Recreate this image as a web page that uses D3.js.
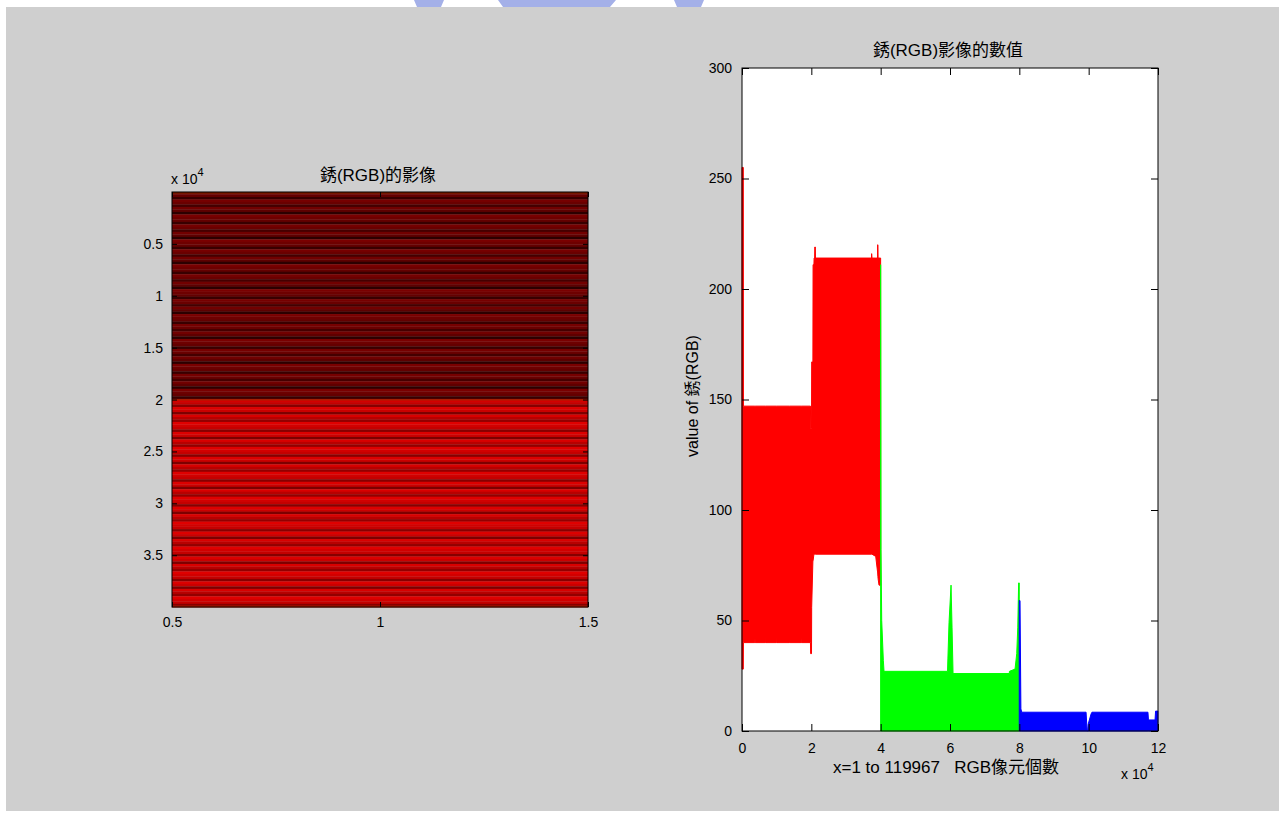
<!DOCTYPE html>
<html lang="zh-Hant">
<head>
  <meta charset="UTF-8">
  <title>銹(RGB)影像</title>
  <script src="https://d3js.org/d3.v7.min.js"></script>
  <style>
    body { margin: 0; background: #fff; }
    text { font-family: "Liberation Sans", Arial, "Noto Sans CJK TC", sans-serif; fill: #000; }
  </style>
</head>
<body>
  <svg id="fig" width="1286" height="814"></svg>

  <script>
    // ---- data ----
    const nRows = 39989;      // pixels per channel (119967 / 3)
    const nTotal = 119967;

    // envelope of the dense R/G/B value line: [index, low, high]
    const redEnvelope = [
      [1, 28, 255], [380, 28, 255], [420, 40, 147],
      [3700, 40, 147], [3750, 42, 147], [3800, 40, 147],
      [6800, 40, 147], [6850, 42, 147], [6900, 40, 147],
      [10000, 40, 147], [10050, 42, 147], [10100, 40, 147],
      [13600, 40, 147], [13650, 42, 147], [13700, 40, 147],
      [17000, 40, 147], [17050, 42, 147], [17100, 40, 147],
      [19750, 40, 147], [19800, 35, 137], [20050, 35, 137],
      [20100, 56, 167], [20450, 77, 167], [20500, 77, 211],
      [20750, 80, 211], [20800, 80, 214], [20950, 80, 214],
      [21000, 80, 219], [21150, 80, 219], [21200, 80, 214],
      [37350, 80, 214], [37400, 80, 216], [37500, 80, 214],
      [38570, 79, 214], [39100, 72, 214], [39120, 72, 220],
      [39200, 70, 220], [39250, 69, 214], [39520, 66, 214],
      [39989, 66, 214]
    ];
    const greenEnvelope = [
      [39990, 0, 211], [40100, 0, 82], [40300, 0, 50], [40770, 0, 32],
      [40970, 0, 27], [59290, 0, 27], [59400, 0, 33], [59720, 0, 49],
      [60300, 0, 66], [60590, 0, 47], [60880, 0, 26], [77100, 0, 26],
      [77150, 0, 27], [78760, 0, 28], [79250, 0, 35], [79550, 0, 47],
      [79800, 0, 67], [79978, 0, 67]
    ];
    const blueEnvelope = [
      [79979, 0, 59], [80200, 0, 59], [80450, 0, 10], [80700, 0, 8.5],
      [99250, 0, 8.5], [99550, 0, 0], [99700, 0, 0], [99850, 0, 3],
      [100200, 0, 5], [100700, 0, 7.7], [100950, 0, 8.5], [117100, 0, 8.5],
      [117250, 0, 5], [119150, 0, 5], [119300, 0, 9], [119967, 0, 9]
    ];

    // the one-column image: stripe shades for the two halves of the rows
    const imgHalves = [
      { from: 0.5, to: 20000.5, shades: ["#6e0000", "#640000", "#380000", "#760000", "#6a0000", "#440000", "#720000", "#5e0000", "#2c0000", "#7a0000"] },
      { from: 20000.5, to: 39989.5, shades: ["#d20000", "#c40000", "#860000", "#dc0000", "#ca0000", "#7c0000", "#d80000", "#b80000", "#920000", "#e00000"] }
    ];
    const stripeRows = 240;
    // a few rows that stand out (rows where green is high)
    const imgAccents = [[0.5, 150, "#7a1c00"], [19960, 20060, "#a82000"], [39860, 39989.5, "#bc2000"]];

    const leftYTicks = [5000, 10000, 15000, 20000, 25000, 30000, 35000];
    const leftXTicks = [0.5, 1, 1.5];
    const rightXTicks = [0, 20000, 40000, 60000, 80000, 100000, 120000];
    const rightYTicks = [0, 50, 100, 150, 200, 250, 300];

    // ---- figure ----
    const svg = d3.select("#fig");
    svg.append("rect").attr("x", 6).attr("y", 7).attr("width", 1273).attr("height", 804).attr("fill", "#cfcfcf");

    // faint logo fragment at the top edge
    svg.append("path").attr("fill", "#a4b0e8")
      .attr("d", "M414,0 L444,0 L441,7 L417,7 Z M498,0 L616,0 L610,7 L503,7 Z M674,0 L704,0 L701,7 L677,7 Z");

    const font = 14;

    // ---------- left: image ----------
    const L = { x0: 172, x1: 588, y0: 192, y1: 607 };
    const xImg = d3.scaleLinear().domain([0.5, 1.5]).range([L.x0, L.x1]);
    const yImg = d3.scaleLinear().domain([0.5, nRows + 0.5]).range([L.y0, L.y1]);

    const stripes = [];
    imgHalves.forEach(h => {
      let i = 0;
      for (let r = h.from; r < h.to; r += stripeRows, i++) {
        stripes.push({ r0: r, r1: Math.min(r + stripeRows, h.to), c: h.shades[i % h.shades.length] });
      }
    });
    imgAccents.forEach(a => stripes.push({ r0: a[0], r1: a[1], c: a[2] }));

    const left = svg.append("g");
    left.selectAll("rect.stripe").data(stripes).enter().append("rect")
      .attr("class", "stripe")
      .attr("x", xImg(0.5)).attr("width", xImg(1.5) - xImg(0.5))
      .attr("y", d => yImg(d.r0)).attr("height", d => yImg(d.r1) - yImg(d.r0) + 0.3)
      .attr("fill", d => d.c);

    left.append("g").attr("transform", `translate(0,${L.y1})`)
      .call(d3.axisBottom(xImg).tickValues(leftXTicks).tickSizeInner(-5).tickSizeOuter(0).tickPadding(10).tickFormat(d3.format("")));
    left.append("g").attr("transform", `translate(0,${L.y0})`)
      .call(d3.axisTop(xImg).tickValues(leftXTicks).tickSizeInner(-5).tickSizeOuter(0).tickFormat(""));
    left.append("g").attr("transform", `translate(${L.x0},0)`)
      .call(d3.axisLeft(yImg).tickValues(leftYTicks).tickSizeInner(-5).tickSizeOuter(0).tickPadding(9).tickFormat(d => d / 1e4));
    left.append("g").attr("transform", `translate(${L.x1},0)`)
      .call(d3.axisRight(yImg).tickValues(leftYTicks).tickSizeInner(-5).tickSizeOuter(0).tickFormat(""));
    left.append("rect").attr("x", L.x0).attr("y", L.y0).attr("width", L.x1 - L.x0).attr("height", L.y1 - L.y0)
      .attr("fill", "none").attr("stroke", "#000");

    left.append("text").attr("x", 378).attr("y", 181).attr("text-anchor", "middle").attr("font-size", 17).text("銹(RGB)的影像");
    const lx = left.append("text").attr("x", 171).attr("y", 184).attr("font-size", 14);
    lx.append("tspan").text("x 10");
    lx.append("tspan").attr("dy", -8).attr("font-size", 11).text("4");

    // ---------- right: values ----------
    const R = { x0: 742, x1: 1158, y0: 68, y1: 731 };
    const x = d3.scaleLinear().domain([0, 120000]).range([R.x0, R.x1]);
    const y = d3.scaleLinear().domain([0, 300]).range([R.y1, R.y0]);

    const right = svg.append("g");
    right.append("rect").attr("x", R.x0).attr("y", R.y0).attr("width", R.x1 - R.x0).attr("height", R.y1 - R.y0).attr("fill", "#fff");

    const area = d3.area().x(d => x(d[0])).y0(d => y(d[1])).y1(d => y(d[2]));
    const series = [
      { data: redEnvelope, color: "#ff0000" },
      { data: greenEnvelope, color: "#00ff00" },
      { data: blueEnvelope, color: "#0000ff" }
    ];
    right.selectAll("path.series").data(series).enter().append("path")
      .attr("class", "series")
      .attr("d", d => area(d.data))
      .attr("fill", d => d.color)
      .attr("stroke", d => d.color)
      .attr("stroke-width", 1);

    right.append("g").attr("transform", `translate(0,${R.y1})`)
      .call(d3.axisBottom(x).tickValues(rightXTicks).tickSizeInner(-7).tickSizeOuter(0).tickPadding(12).tickFormat(d => d / 1e4));
    right.append("g").attr("transform", `translate(0,${R.y0})`)
      .call(d3.axisTop(x).tickValues(rightXTicks).tickSizeInner(-7).tickSizeOuter(0).tickFormat(""));
    right.append("g").attr("transform", `translate(${R.x0},0)`)
      .call(d3.axisLeft(y).tickValues(rightYTicks).tickSizeInner(-7).tickSizeOuter(0).tickPadding(10));
    right.append("g").attr("transform", `translate(${R.x1},0)`)
      .call(d3.axisRight(y).tickValues(rightYTicks).tickSizeInner(-7).tickSizeOuter(0).tickFormat(""));
    right.append("rect").attr("x", R.x0).attr("y", R.y0).attr("width", R.x1 - R.x0).attr("height", R.y1 - R.y0)
      .attr("fill", "none").attr("stroke", "#000");

    right.append("text").attr("x", 948).attr("y", 56).attr("text-anchor", "middle").attr("font-size", 17).text("銹(RGB)影像的數值");
    right.append("text").attr("x", 946).attr("y", 773).attr("text-anchor", "middle").attr("font-size", 17)
      .attr("xml:space", "preserve").text("x=1 to " + nTotal + "   RGB像元個數");
    right.append("text").attr("transform", "translate(698,396) rotate(-90)").attr("text-anchor", "middle").attr("font-size", 16)
      .text("value of 銹(RGB)");
    const rx = right.append("text").attr("x", 1121).attr("y", 779).attr("font-size", 14);
    rx.append("tspan").text("x 10");
    rx.append("tspan").attr("dy", -8).attr("font-size", 11).text("4");

    // axis styling
    svg.selectAll(".domain").remove();
    svg.selectAll(".tick line").attr("stroke", "#000");
    svg.selectAll(".tick text").attr("font-size", font).attr("font-family", "'Liberation Sans', Arial, sans-serif").attr("fill", "#000");
  </script>
</body>
</html>
